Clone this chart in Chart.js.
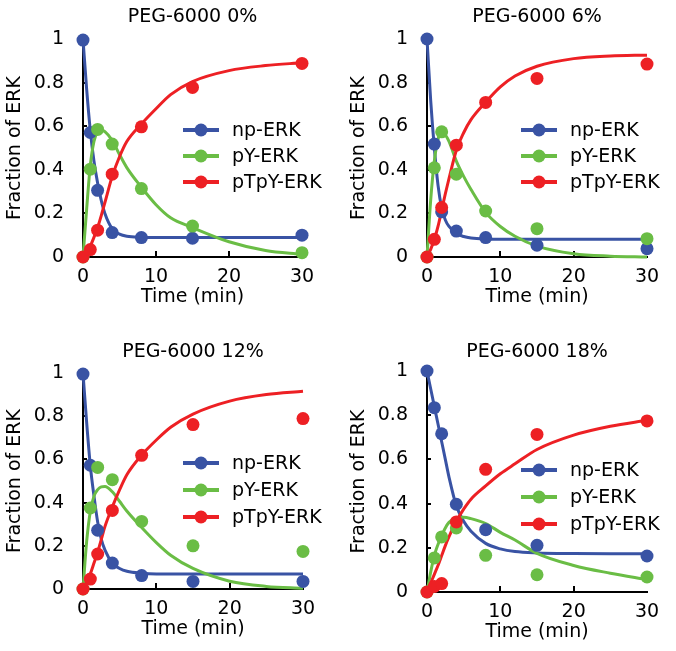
<!DOCTYPE html>
<html>
<head>
<meta charset="utf-8">
<script src="https://cdn.jsdelivr.net/npm/chart.js@4.4.1/dist/chart.umd.min.js"></script>
<style>
  body { margin: 0; background: #fff; }
  #wrap { position: relative; width: 676px; height: 651px; }
  canvas { position: absolute; }
</style>
</head>
<body>
<div id="wrap">
  <canvas id="c0" width="338" height="320" style="left:0;top:0"></canvas>
  <canvas id="c1" width="338" height="320" style="left:338px;top:0"></canvas>
  <canvas id="c2" width="338" height="331" style="left:0;top:320px"></canvas>
  <canvas id="c3" width="338" height="331" style="left:338px;top:320px"></canvas>
</div>
<script>
// sampling times (min)
const times = [0, 1, 2, 4, 8, 15, 30];
const fitTimes = [0, 0.5, 1, 1.5, 2, 2.5, 3, 4, 5, 6, 8, 10, 12, 15, 20, 25, 30];

const panelTitles = ['PEG-6000 0%', 'PEG-6000 6%', 'PEG-6000 12%', 'PEG-6000 18%'];
const seriesNames = ['np-ERK', 'pY-ERK', 'pTpY-ERK'];
const xTicks = [0, 10, 20, 30];
const yTicks = [0, 0.2, 0.4, 0.6, 0.8, 1];

// measured points, one row per panel
const npPoints = [
  [0.995, 0.571, 0.306, 0.112, 0.089, 0.086, 0.10],
  [1.0, 0.518, 0.207, 0.119, 0.089, 0.054, 0.038],
  [0.995, 0.573, 0.272, 0.12, 0.062, 0.035, 0.035],
  [1.0, 0.834, 0.716, 0.397, 0.282, 0.211, 0.163]
];
const pYPoints = [
  [0, 0.403, 0.585, 0.518, 0.314, 0.142, 0.02],
  [0, 0.409, 0.574, 0.38, 0.211, 0.13, 0.084],
  [0, 0.375, 0.563, 0.506, 0.313, 0.2, 0.174],
  [0, 0.154, 0.249, 0.29, 0.166, 0.078, 0.068]
];
const pTpYPoints = [
  [0, 0.034, 0.123, 0.38, 0.597, 0.778, 0.888],
  [0, 0.081, 0.227, 0.513, 0.709, 0.819, 0.885],
  [0, 0.046, 0.162, 0.364, 0.619, 0.761, 0.789],
  [0, 0.025, 0.038, 0.317, 0.555, 0.713, 0.774]
];

// fitted curves at fitTimes
const npFit = [
  [1.0, 0.77, 0.58, 0.44, 0.34, 0.26, 0.2, 0.13, 0.105, 0.095, 0.09, 0.089, 0.089, 0.089, 0.089, 0.089, 0.089],
  [1.0, 0.72, 0.5, 0.33, 0.225, 0.17, 0.14, 0.108, 0.094, 0.087, 0.082, 0.081, 0.081, 0.081, 0.081, 0.081, 0.081],
  [1.0, 0.77, 0.57, 0.43, 0.31, 0.23, 0.18, 0.12, 0.095, 0.082, 0.073, 0.07, 0.07, 0.07, 0.07, 0.07, 0.07],
  [1.0, 0.92, 0.84, 0.76, 0.68, 0.6, 0.52, 0.39, 0.32, 0.275, 0.22, 0.195, 0.183, 0.177, 0.174, 0.173, 0.173]
];
const pYFit = [
  [0, 0.22, 0.42, 0.53, 0.575, 0.583, 0.575, 0.535, 0.47, 0.41, 0.32, 0.24, 0.18, 0.135, 0.07, 0.03, 0.012],
  [0, 0.26, 0.44, 0.54, 0.573, 0.56, 0.53, 0.44, 0.37, 0.31, 0.205, 0.14, 0.095, 0.05, 0.015, 0.004, 0.0],
  [0, 0.22, 0.36, 0.43, 0.46, 0.473, 0.475, 0.45, 0.405, 0.36, 0.285, 0.215, 0.155, 0.095, 0.036, 0.012, 0.003],
  [0, 0.09, 0.165, 0.215, 0.255, 0.29, 0.315, 0.335, 0.338, 0.332, 0.31, 0.27, 0.235, 0.175, 0.12, 0.085, 0.056]
];
const pTpYFit = [
  [0, 0.02, 0.05, 0.09, 0.135, 0.19, 0.25, 0.37, 0.46, 0.53, 0.61, 0.68, 0.745, 0.805, 0.855, 0.878, 0.891],
  [0, 0.035, 0.08, 0.14, 0.215, 0.29, 0.36, 0.49, 0.57, 0.63, 0.71, 0.78, 0.83, 0.875, 0.91, 0.922, 0.926],
  [0, 0.03, 0.07, 0.12, 0.17, 0.23, 0.29, 0.38, 0.46, 0.53, 0.62, 0.69, 0.75, 0.81, 0.87, 0.9, 0.915],
  [0, 0.04, 0.08, 0.12, 0.165, 0.21, 0.25, 0.32, 0.375, 0.42, 0.48, 0.535, 0.58, 0.645, 0.71, 0.75, 0.777]
];

const colors = ['#3953a4', '#6abd45', '#ed2024'];
const FONT = 'DejaVu Sans';

// layout of each panel (canvas px)
const layouts = [
  { left: 83, top: 39, right: 36, xh: 63, titleY: 17, legendY: [130, 156, 182] },
  { left: 89, top: 39, right: 29, xh: 63, titleY: 17, legendY: [130, 156, 182] },
  { left: 83, top: 53, right: 35, xh: 62, titleY: 32, legendY: [143, 170, 197] },
  { left: 89, top: 51, right: 29, xh: 59, titleY: 32, legendY: [150, 177, 204] }
];

function pts(xs, ys) { return xs.map((x, i) => ({ x: x, y: ys[i] })); }

// black axis lines with small inward ticks
function drawAxes(chart) {
  const ctx = chart.ctx, a = chart.chartArea;
  const xs = chart.scales.x, ys = chart.scales.y;
  const x0 = Math.round(a.left), y0 = Math.round(a.bottom);
  const yTop = Math.round(ys.getPixelForValue(1));
  const xEnd = Math.round(xs.getPixelForValue(30));
  ctx.save();
  ctx.fillStyle = '#000';
  ctx.fillRect(x0 - 1, yTop - 1, 2, y0 - yTop + 2);
  ctx.fillRect(x0 - 1, y0 - 1, xEnd - x0 + 2, 2);
  yTicks.slice(1, -1).forEach(v => {
    const y = Math.round(ys.getPixelForValue(v));
    ctx.fillRect(x0, y - 1, 4, 2);
  });
  xTicks.slice(1, -1).forEach(v => {
    const x = Math.round(xs.getPixelForValue(v));
    ctx.fillRect(x - 1, y0 - 6, 2, 6);
  });
  ctx.restore();
}

const decor = {
  id: 'decor',
  beforeDatasetsDraw(chart) {
    drawAxes(chart);
  },
  afterDraw(chart, args, o) {
    const ctx = chart.ctx, a = chart.chartArea;
    const cx = (a.left + a.right) / 2;
    ctx.save();
    ctx.fillStyle = '#000';
    ctx.font = '19px "' + FONT + '"';
    ctx.textAlign = 'center';
    ctx.textBaseline = 'middle';
    ctx.fillText(o.title, cx, o.titleY);
    ctx.fillText('Time (min)', cx, a.bottom + 40);
    ctx.save();
    ctx.translate(a.left - 68, (a.top + a.bottom) / 2);
    ctx.rotate(-Math.PI / 2);
    ctx.fillText('Fraction of ERK', 0, 0);
    ctx.restore();
    // legend: line with marker
    ctx.textAlign = 'left';
    seriesNames.forEach((name, i) => {
      const y = o.legendY[i];
      ctx.strokeStyle = colors[i];
      ctx.lineWidth = 4;
      ctx.beginPath();
      ctx.moveTo(183, y); ctx.lineTo(219, y);
      ctx.stroke();
      ctx.fillStyle = colors[i];
      ctx.beginPath();
      ctx.arc(201, y, 6.5, 0, Math.PI * 2);
      ctx.fill();
      ctx.fillStyle = '#000';
      ctx.fillText(name, 232, y + 1);
    });
    ctx.restore();
  }
};

function buildPanel(k) {
  const L = layouts[k];
  const fits = [npFit[k], pYFit[k], pTpYFit[k]];
  const points = [npPoints[k], pYPoints[k], pTpYPoints[k]];
  const datasets = [];
  // first dataset is drawn on top
  for (let i = 2; i >= 0; i--) {
    datasets.push({
      type: 'scatter', label: seriesNames[i], data: pts(times, points[i]),
      showLine: false, pointRadius: 6.5, pointHoverRadius: 6.5,
      pointBackgroundColor: colors[i], pointBorderWidth: 0, clip: false
    });
  }
  for (let i = 2; i >= 0; i--) {
    datasets.push({
      type: 'line', label: seriesNames[i] + ' fit', data: pts(fitTimes, fits[i]),
      borderColor: colors[i], borderWidth: 3, pointRadius: 0,
      cubicInterpolationMode: 'monotone', fill: false, clip: false
    });
  }
  new Chart(document.getElementById('c' + k), {
    type: 'line',
    data: { datasets: datasets },
    plugins: [decor],
    options: {
      responsive: false,
      animation: false,
      events: [],
      layout: { padding: { left: 0, top: L.top, right: L.right, bottom: 0 } },
      plugins: {
        legend: { display: false },
        tooltip: { enabled: false },
        decor: { title: panelTitles[k], titleY: L.titleY, legendY: L.legendY }
      },
      scales: {
        x: {
          type: 'linear', min: 0, max: 30,
          grid: { display: false, drawTicks: false },
          border: { display: true, color: '#000', width: 2 },
          ticks: { stepSize: 10, color: '#000', padding: 9, font: { family: FONT, size: 19 } },
          afterFit: s => { s.height = L.xh; }
        },
        y: {
          type: 'linear', min: 0, max: 1,
          grid: { display: false, drawTicks: false },
          border: { display: true, color: '#000', width: 2 },
          ticks: {
            stepSize: 0.2, color: '#000', padding: 19,
            font: { family: FONT, size: 19 },
            callback: v => String(+v.toFixed(1))
          },
          afterFit: s => { s.width = L.left; }
        }
      }
    }
  });
}

for (let k = 0; k < 4; k++) buildPanel(k);
</script>
</body>
</html>
